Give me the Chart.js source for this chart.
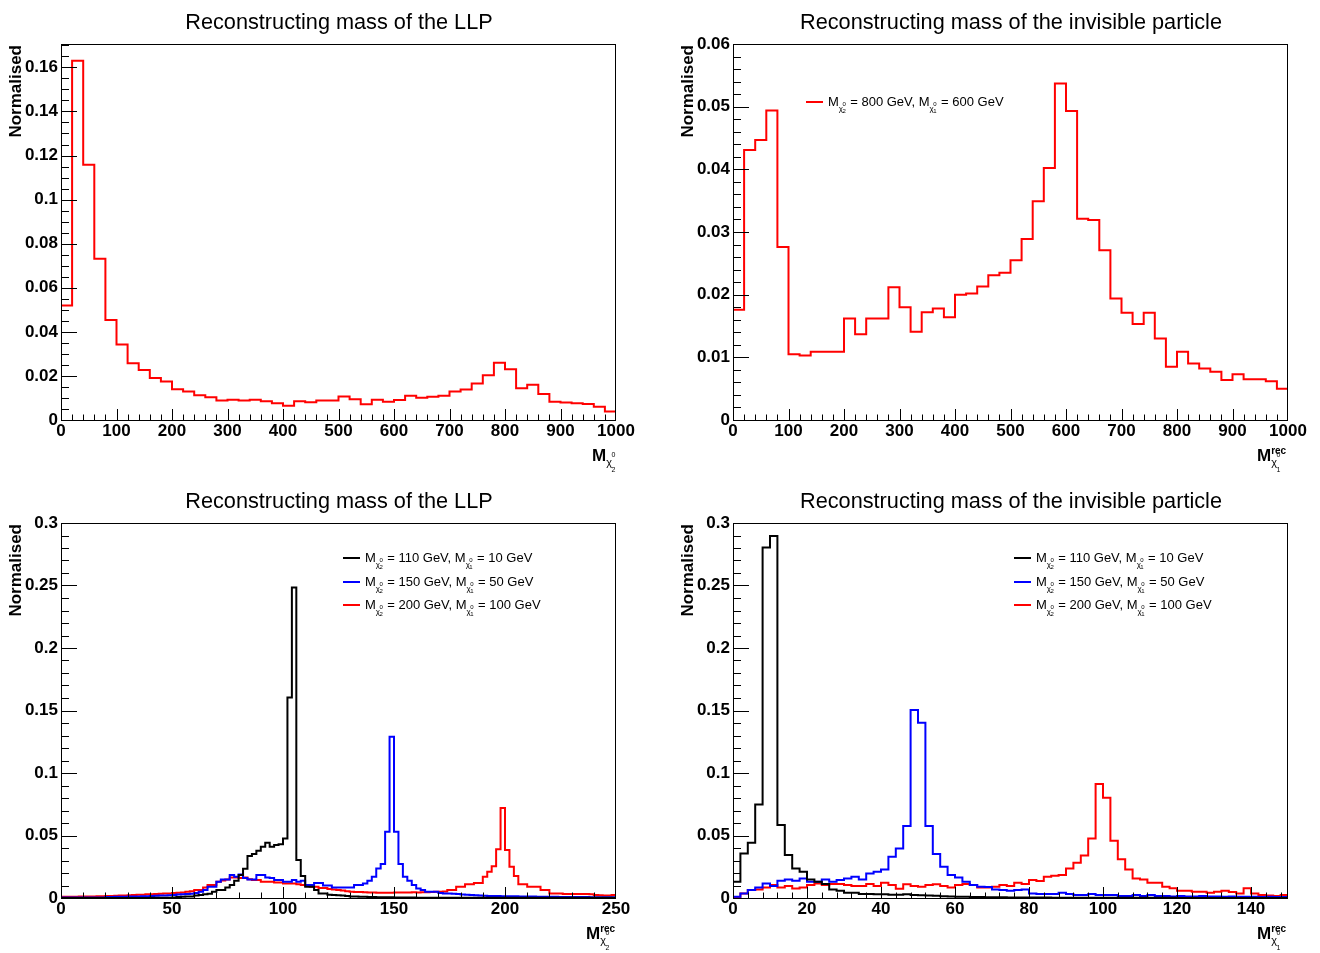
<!DOCTYPE html>
<html>
<head>
<meta charset="utf-8">
<script src="https://cdn.jsdelivr.net/npm/chart.js@4.4.1/dist/chart.umd.min.js"></script>
<style>
  body { margin: 0; background: #fff; width: 1320px; height: 953px; position: relative; overflow: hidden; }
  canvas { position: absolute; }
</style>
</head>
<body>
<canvas id="c1" width="660" height="477" style="left:0;top:0"></canvas>
<canvas id="c2" width="660" height="477" style="left:660px;top:0"></canvas>
<canvas id="c3" width="660" height="476" style="left:0;top:477px"></canvas>
<canvas id="c4" width="660" height="476" style="left:660px;top:477px"></canvas>
<script>
// top row: 50 bins of 20 GeV, 0-1000
const llpHeavy = [0.0519, 0.163, 0.1158, 0.0732, 0.0454, 0.0342, 0.0257, 0.0227, 0.0191, 0.0175,
  0.0139, 0.0129, 0.0112, 0.0103, 0.0089, 0.0092, 0.0088, 0.0092, 0.0085, 0.0076,
  0.0065, 0.0085, 0.0080, 0.0088, 0.0088, 0.0107, 0.0094, 0.0071, 0.0092, 0.0083,
  0.0091, 0.0110, 0.0101, 0.0106, 0.0110, 0.0129, 0.0138, 0.0166, 0.0203, 0.0260,
  0.0230, 0.0144, 0.0160, 0.0118, 0.0083, 0.0079, 0.0076, 0.0073, 0.0060, 0.0038]
const invHeavy = [0.0176, 0.0431, 0.0447, 0.0494, 0.0276, 0.0105, 0.0103, 0.0109, 0.0109, 0.0109,
  0.0162, 0.0137, 0.0162, 0.0162, 0.0212, 0.0180, 0.0141, 0.0172, 0.0178, 0.0164,
  0.0200, 0.0202, 0.0213, 0.0231, 0.0235, 0.0255, 0.0289, 0.0349, 0.0402, 0.0537,
  0.0493, 0.0321, 0.0319, 0.0271, 0.0194, 0.0171, 0.0153, 0.0171, 0.0130, 0.0085,
  0.0109, 0.0090, 0.0082, 0.0077, 0.0064, 0.0073, 0.0065, 0.0065, 0.0062, 0.0050]

// bottom left: 125 bins of 2 GeV, 0-250
const llp110 = [0, 0, 0, 0, 0, 0, 0, 0, 0, 0,
  0, 0, 0, 0, 0, 0, 0, 0, 0, 0,
  0.0002, 0.0002, 0.0002, 0.0002, 0.0003, 0.0005, 0.0008, 0.001, 0.0012, 0.0013,
  0.002, 0.0025, 0.003, 0.0035, 0.005, 0.0064, 0.0064, 0.0085, 0.0104, 0.0139,
  0.0184, 0.0235, 0.0336, 0.0352, 0.0379, 0.041, 0.0443, 0.041, 0.0424, 0.043,
  0.0477, 0.1605, 0.2485, 0.0304, 0.0176, 0.009, 0.009, 0.0064, 0.0037, 0.0037,
  0.0026, 0.0024, 0.0022, 0.002, 0.0017, 0.0013, 0.0012, 0.0011, 0.001, 0.0009,
  0.0008, 0.0007, 0.0007, 0.0006, 0.0006, 0.0005, 0.0005, 0.0004, 0.0004, 0.0004,
  0.0003, 0.0003, 0.0003, 0.0003, 0.0003, 0.0003, 0.0003, 0.0002, 0.0002, 0.0002,
  0.0002, 0.0002, 0.0002, 0.0002, 0.0002, 0.0002, 0.0002, 0.0002, 0.0002, 0.0002,
  0.0002, 0.0002, 0.0002, 0.0002, 0.0002, 0.0002, 0.0002, 0.0002, 0.0002, 0.0002,
  0.0002, 0.0002, 0.0002, 0.0002, 0.0002, 0.0002, 0.0002, 0.0002, 0.0002, 0.0002,
  0.0002, 0.0002, 0.0002, 0.0002, 0.0002]
const llp150 = [0.0005, 0.0005, 0.0005, 0.0005, 0.0005, 0.0005, 0.0005, 0.0005, 0.0005, 0.0005,
  0.0008, 0.0008, 0.001, 0.001, 0.001, 0.0012, 0.0012, 0.0013, 0.0015, 0.0015,
  0.0017, 0.0018, 0.002, 0.002, 0.0022, 0.0025, 0.0028, 0.003, 0.0032, 0.0035,
  0.004, 0.005, 0.0064, 0.009, 0.0091, 0.013, 0.0149, 0.0149, 0.0184, 0.017,
  0.0189, 0.016, 0.0149, 0.0149, 0.0184, 0.0184, 0.0165, 0.016, 0.0144, 0.0144,
  0.013, 0.013, 0.0144, 0.013, 0.0139, 0.0104, 0.0104, 0.012, 0.012, 0.0101,
  0.0101, 0.0085, 0.0085, 0.0085, 0.0085, 0.0085, 0.0104, 0.0104, 0.0117, 0.0139,
  0.017, 0.0237, 0.0272, 0.053, 0.129, 0.053, 0.0272, 0.017, 0.0139, 0.0104,
  0.0077, 0.0064, 0.005, 0.005, 0.005, 0.004, 0.0037, 0.0037, 0.0035, 0.0032,
  0.0028, 0.0026, 0.0024, 0.0022, 0.002, 0.0018, 0.0017, 0.0016, 0.0016, 0.0015,
  0.0015, 0.0014, 0.0014, 0.0013, 0.0013, 0.0012, 0.0012, 0.0011, 0.0011, 0.001,
  0.001, 0.001, 0.0009, 0.0009, 0.0009, 0.0008, 0.0008, 0.0008, 0.0008, 0.0007,
  0.0007, 0.0007, 0.0007, 0.0006, 0.0006]
const llp200 = [0.001, 0.001, 0.0011, 0.0011, 0.0012, 0.0012, 0.0013, 0.0013, 0.0014, 0.0015,
  0.0016, 0.0017, 0.0018, 0.002, 0.002, 0.0022, 0.0024, 0.0026, 0.0027, 0.003,
  0.003, 0.0032, 0.0034, 0.0036, 0.0037, 0.004, 0.0042, 0.0045, 0.005, 0.0055,
  0.0064, 0.0064, 0.0085, 0.0104, 0.0104, 0.013, 0.014, 0.0149, 0.0165, 0.0165,
  0.016, 0.0165, 0.015, 0.0144, 0.0144, 0.013, 0.013, 0.013, 0.0125, 0.0125,
  0.0117, 0.0117, 0.0117, 0.011, 0.0104, 0.0096, 0.009, 0.009, 0.008, 0.008,
  0.0072, 0.0068, 0.0064, 0.006, 0.0055, 0.005, 0.0048, 0.0048, 0.0046, 0.0045,
  0.0044, 0.0043, 0.0042, 0.0042, 0.0043, 0.0044, 0.0045, 0.0044, 0.0045, 0.0046,
  0.0045, 0.0046, 0.0047, 0.0048, 0.005, 0.005, 0.0052, 0.0064, 0.0064, 0.009,
  0.009, 0.011, 0.011, 0.012, 0.012, 0.017, 0.021, 0.0255, 0.039, 0.072,
  0.0384, 0.025, 0.0176, 0.011, 0.011, 0.009, 0.009, 0.009, 0.0064, 0.0064,
  0.0037, 0.0037, 0.0037, 0.0032, 0.0032, 0.0032, 0.0032, 0.0032, 0.0032, 0.003,
  0.0025, 0.0022, 0.002, 0.002, 0.0025]

// bottom right: 75 bins of 2 GeV, 0-150
const inv10 = [0.013, 0.0357, 0.0443, 0.0749, 0.2805, 0.2896, 0.0584, 0.0344, 0.0237, 0.021,
  0.0149, 0.013, 0.0112, 0.0069, 0.0059, 0.0043, 0.0043, 0.0032, 0.0032, 0.003,
  0.003, 0.0027, 0.0027, 0.003, 0.0025, 0.0022, 0.002, 0.0018, 0.0015, 0.0012,
  0.001, 0.001, 0.0009, 0.0008, 0.0007, 0.0006, 0.0006, 0.0005, 0.0005, 0.0005,
  0.0004, 0.0004, 0.0004, 0.0003, 0.0003, 0.0003, 0.0003, 0.0003, 0.0003, 0.0002,
  0.0002, 0.0002, 0.0002, 0.0002, 0.0002, 0.0002, 0.0002, 0.0002, 0.0002, 0.0002,
  0.0001, 0.0001, 0.0001, 0.0001, 0.0001, 0.0001, 0.0001, 0.0001, 0.0001, 0.0001,
  0.0001, 0.0001, 0.0001, 0.0001, 0.0001]
const inv50 = [0.001, 0.0037, 0.0064, 0.0085, 0.0117, 0.0096, 0.0139, 0.0149, 0.0139, 0.0157,
  0.013, 0.013, 0.0149, 0.013, 0.0144, 0.0157, 0.017, 0.0149, 0.0197, 0.021,
  0.0229, 0.0331, 0.0397, 0.0576, 0.1504, 0.1403, 0.0576, 0.0352, 0.025, 0.0184,
  0.0165, 0.013, 0.0104, 0.009, 0.0088, 0.0069, 0.0064, 0.0058, 0.0064, 0.0069,
  0.0037, 0.0032, 0.0032, 0.0032, 0.0043, 0.0032, 0.0024, 0.0024, 0.0032, 0.0024,
  0.0024, 0.0024, 0.0016, 0.0016, 0.0024, 0.0016, 0.0024, 0.0016, 0.0016, 0.0013,
  0.0016, 0.0013, 0.0013, 0.0016, 0.0013, 0.0013, 0.001, 0.0013, 0.001, 0.001,
  0.001, 0.0008, 0.001, 0.0008, 0.0008]
const inv100 = [0.0005, 0.0037, 0.0064, 0.0069, 0.0085, 0.0104, 0.0085, 0.0096, 0.0077, 0.0085,
  0.0104, 0.0117, 0.0104, 0.0112, 0.0112, 0.0104, 0.0096, 0.0096, 0.0112, 0.0096,
  0.0123, 0.0104, 0.0075, 0.011, 0.0096, 0.009, 0.0104, 0.011, 0.0096, 0.0085,
  0.0104, 0.0112, 0.0104, 0.0085, 0.0085, 0.009, 0.0104, 0.0096, 0.0123, 0.0112,
  0.0144, 0.0137, 0.0171, 0.0178, 0.0185, 0.0237, 0.0283, 0.034, 0.0477, 0.0912,
  0.0803, 0.0459, 0.031, 0.0229, 0.0157, 0.0149, 0.0123, 0.0123, 0.0091, 0.0078,
  0.0059, 0.0059, 0.0051, 0.0051, 0.0043, 0.0051, 0.0059, 0.0048, 0.0037, 0.0078,
  0.0037, 0.0024, 0.0021, 0.0016, 0.0024]

// tick labels
const xTicksTop = [0, 100, 200, 300, 400, 500, 600, 700, 800, 900, 1000]
const xTicksLLP = [0, 50, 100, 150, 200, 250]
const xTicksInv = [0, 20, 40, 60, 80, 100, 120, 140]
const yTicksTL = [0, 0.02, 0.04, 0.06, 0.08, 0.1, 0.12, 0.14, 0.16]
const yTicksTR = [0, 0.01, 0.02, 0.03, 0.04, 0.05, 0.06]
const yTicksBot = [0, 0.05, 0.1, 0.15, 0.2, 0.25, 0.3]

const FONT = '"Liberation Sans", Arial, Helvetica, sans-serif'
const RED = '#ff0000', BLUE = '#0000ff', BLACK = '#000000'
const Y_AXIS_W = 46, X_AXIS_H = 30

// histogram -> step points at the bin edges
function hist(vals, width) {
    const pts = vals.map((v, i) => ({ x: i * width, y: v }))
    pts.push({ x: vals.length * width, y: vals[vals.length - 1] })
    return pts
}

function drawChi(ctx, x, base, sz, dsz, up, down, idx) {
    ctx.font = sz + 'px ' + FONT
    ctx.fillText('χ', x, base)
    const w = ctx.measureText('χ').width
    ctx.font = dsz + 'px ' + FONT
    ctx.fillText('0', x + w - 0.5, base - up)
    ctx.fillText(idx, x + w - 0.5, base + down)
    return w + dsz * 0.6
}

function drawLegend(ctx, entries) {
    entries.forEach(e => {
        ctx.strokeStyle = e.color
        ctx.lineWidth = 2
        ctx.beginPath()
        ctx.moveTo(e.x, e.y)
        ctx.lineTo(e.x + 17, e.y)
        ctx.stroke()
        ctx.fillStyle = '#000'
        ctx.textAlign = 'left'
        ctx.textBaseline = 'alphabetic'
        let x = e.x + 22
        const base = e.y + 4
        ctx.font = '13px ' + FONT
        ctx.fillText('M', x, base)
        x += ctx.measureText('M').width
        x += drawChi(ctx, x, base + 5, 8, 6, 5, 1.5, '2')
        ctx.font = '13px ' + FONT
        const mid = ' = ' + e.m2 + ' GeV, M'
        ctx.fillText(mid, x, base)
        x += ctx.measureText(mid).width
        x += drawChi(ctx, x, base + 5, 8, 6, 5, 1.5, '1')
        ctx.font = '13px ' + FONT
        ctx.fillText(' = ' + e.m1 + ' GeV', x, base)
    })
}

function drawDeco(chart, cfg) {
    const { ctx, chartArea: a, scales } = chart
    ctx.save()
    ctx.strokeStyle = '#000'
    ctx.lineWidth = 1
    ctx.strokeRect(a.left + 0.5, a.top + 0.5, a.right - a.left - 1, a.bottom - a.top)

    // ticks drawn inside the frame, ROOT style
    ctx.beginPath()
    const ny = Math.floor(cfg.yMax / cfg.yMinor + 1e-6)
    for (let k = 0; k <= ny; k++) {
        const v = k * cfg.yMinor
        const major = Math.abs(v / cfg.yMajor - Math.round(v / cfg.yMajor)) < 1e-6
        const py = Math.round(scales.y.getPixelForValue(v)) + 0.5
        ctx.moveTo(a.left, py)
        ctx.lineTo(a.left + (major ? 16 : 8), py)
    }
    const nx = Math.floor(cfg.xMax / cfg.xMinor + 1e-6)
    for (let k = 0; k <= nx; k++) {
        const v = k * cfg.xMinor
        const major = Math.abs(v / cfg.xMajor - Math.round(v / cfg.xMajor)) < 1e-6
        const px = Math.min(Math.round(scales.x.getPixelForValue(v)), a.right - 1) + 0.5
        ctx.moveTo(px, a.bottom)
        ctx.lineTo(px, a.bottom - (major ? 11 : 5.5))
    }
    ctx.stroke()

    // title
    ctx.fillStyle = '#000'
    ctx.font = '21.7px ' + FONT
    ctx.textAlign = 'center'
    ctx.textBaseline = 'alphabetic'
    ctx.fillText(cfg.title, cfg.titleX, a.top - 15)

    // y title
    ctx.save()
    ctx.translate(cfg.yTitleX, a.top + 1)
    ctx.rotate(-Math.PI / 2)
    ctx.font = 'bold 17px ' + FONT
    ctx.textAlign = 'right'
    ctx.textBaseline = 'middle'
    ctx.fillText('Normalised', 0, 0)
    ctx.restore()

    // x title
    ctx.textAlign = 'left'
    ctx.textBaseline = 'alphabetic'
    const mx = a.right - cfg.xTitleOff
    const mb = a.bottom + 41
    ctx.font = 'bold 17px ' + FONT
    ctx.fillText('M', mx, mb)
    const mw = ctx.measureText('M').width
    if (cfg.rec) {
        ctx.font = 'bold 10px ' + FONT
        ctx.fillText('rec', mx + mw, mb - 7)
    }
    drawChi(ctx, mx + mw, mb + 5, 11, 7, 9, 6, cfg.chiIdx)

    if (cfg.legend) drawLegend(ctx, cfg.legend)
    ctx.restore()
}

function makePanel(id, cfg) {
    const tickFont = { family: FONT, size: 17, weight: 'bold' }
    const p = cfg.plot
    new Chart(document.getElementById(id), {
        type: 'line',
        data: {
            datasets: cfg.series.map(s => ({
                data: hist(s.vals, cfg.binW),
                borderColor: s.color,
                borderWidth: 2,
                stepped: true,
                pointRadius: 0,
                fill: false,
                tension: 0
            }))
        },
        options: {
            responsive: false,
            animation: false,
            events: [],
            layout: { padding: { left: p.left - Y_AXIS_W, right: p.right, top: p.top, bottom: p.bottom - X_AXIS_H } },
            plugins: { legend: { display: false }, tooltip: { enabled: false } },
            scales: {
                x: {
                    type: 'linear', min: 0, max: cfg.xMax,
                    grid: { display: false, drawTicks: false },
                    border: { display: false },
                    afterFit: s => { s.height = X_AXIS_H },
                    afterBuildTicks: s => { s.ticks = cfg.xTicks.map(v => ({ value: v })) },
                    ticks: { autoSkip: false, maxRotation: 0, padding: 1, color: '#000', font: tickFont,
                        callback: v => String(v) }
                },
                y: {
                    type: 'linear', min: 0, max: cfg.yMax,
                    grid: { display: false, drawTicks: false },
                    border: { display: false },
                    afterFit: s => { s.width = Y_AXIS_W },
                    afterBuildTicks: s => { s.ticks = cfg.yTicks.map(v => ({ value: v })) },
                    ticks: { autoSkip: false, padding: 3, color: '#000', font: tickFont,
                        callback: v => String(+v.toFixed(4)) }
                }
            }
        },
        plugins: [{ id: 'rootDeco', afterDraw: c => drawDeco(c, cfg) }]
    })
}

makePanel('c1', {
    series: [{ vals: llpHeavy, color: RED }],
    binW: 20, xMax: 1000, xTicks: xTicksTop, xMajor: 100, xMinor: 20,
    yMax: 0.1706, yTicks: yTicksTL, yMajor: 0.02, yMinor: 0.005,
    plot: { left: 61, right: 44, top: 44, bottom: 57 },
    title: 'Reconstructing mass of the LLP', titleX: 339, yTitleX: 16,
    xTitleOff: 24, rec: false, chiIdx: '2'
})

makePanel('c2', {
    series: [{ vals: invHeavy, color: RED }],
    binW: 20, xMax: 1000, xTicks: xTicksTop, xMajor: 100, xMinor: 20,
    yMax: 0.06, yTicks: yTicksTR, yMajor: 0.01, yMinor: 0.002,
    plot: { left: 73, right: 32, top: 44, bottom: 57 },
    title: 'Reconstructing mass of the invisible particle', titleX: 351, yTitleX: 28,
    xTitleOff: 31, rec: true, chiIdx: '1',
    legend: [{ x: 146, y: 102, color: RED, m2: 800, m1: 600 }]
})

makePanel('c3', {
    series: [{ vals: llp110, color: BLACK }, { vals: llp150, color: BLUE }, { vals: llp200, color: RED }],
    binW: 2, xMax: 250, xTicks: xTicksLLP, xMajor: 50, xMinor: 10,
    yMax: 0.3, yTicks: yTicksBot, yMajor: 0.05, yMinor: 0.01,
    plot: { left: 61, right: 44, top: 46, bottom: 55 },
    title: 'Reconstructing mass of the LLP', titleX: 339, yTitleX: 16,
    xTitleOff: 30, rec: true, chiIdx: '2',
    legend: [
        { x: 343, y: 81, color: BLACK, m2: 110, m1: 10 },
        { x: 343, y: 105, color: BLUE, m2: 150, m1: 50 },
        { x: 343, y: 128, color: RED, m2: 200, m1: 100 }
    ]
})

makePanel('c4', {
    series: [{ vals: inv10, color: BLACK }, { vals: inv50, color: BLUE }, { vals: inv100, color: RED }],
    binW: 2, xMax: 150, xTicks: xTicksInv, xMajor: 20, xMinor: 4,
    yMax: 0.3, yTicks: yTicksBot, yMajor: 0.05, yMinor: 0.01,
    plot: { left: 73, right: 32, top: 46, bottom: 55 },
    title: 'Reconstructing mass of the invisible particle', titleX: 351, yTitleX: 28,
    xTitleOff: 31, rec: true, chiIdx: '1',
    legend: [
        { x: 354, y: 81, color: BLACK, m2: 110, m1: 10 },
        { x: 354, y: 105, color: BLUE, m2: 150, m1: 50 },
        { x: 354, y: 128, color: RED, m2: 200, m1: 100 }
    ]
})
</script>
</body>
</html>
